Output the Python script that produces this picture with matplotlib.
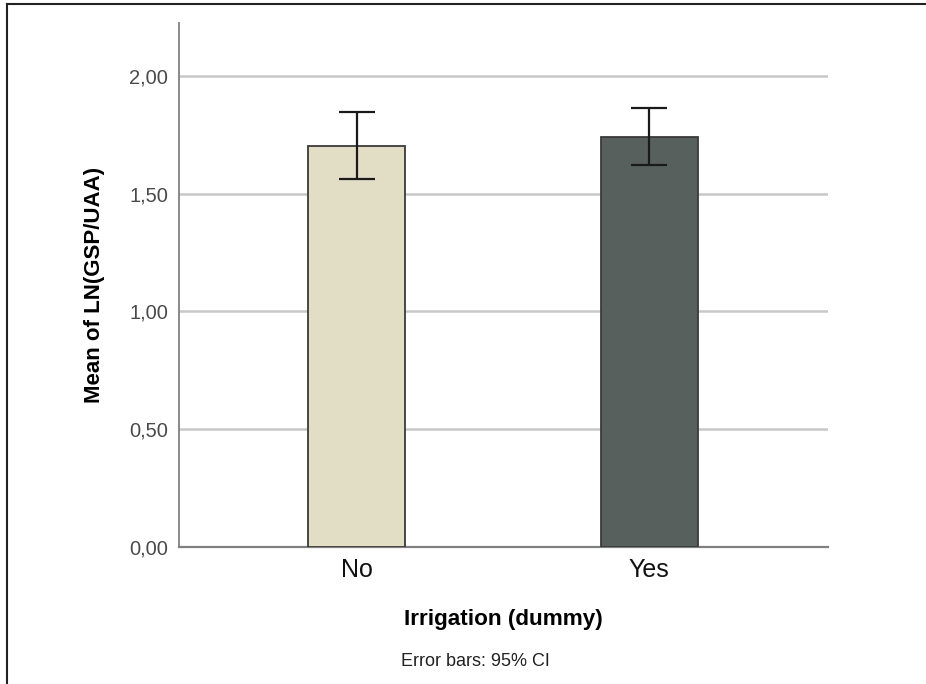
"""Mean of LN(GSP/UAA) by irrigation, with 95% CI error bars."""
import matplotlib
matplotlib.use("Agg")
import matplotlib.pyplot as plt
from matplotlib.lines import Line2D
from matplotlib.ticker import FuncFormatter

categories = ["No", "Yes"]
means = [1.703, 1.741]
ci_low = [1.561, 1.621]
ci_high = [1.845, 1.862]
bar_colours = ["#E2DEC6", "#58605E"]
y_ticks = [0.0, 0.5, 1.0, 1.5, 2.0]

plt.rcParams["font.family"] = ["Liberation Sans", "DejaVu Sans"]

W, H = 926, 684
fig = plt.figure(figsize=(W / 100, H / 100), dpi=100)
# axes box in pixel units: left 179, right 828, top 23, bottom 547
ax = fig.add_axes([179 / W, 1 - 547 / H, (828 - 179) / W, (547 - 23) / H])

x = list(range(len(categories)))
ax.bar(x, means, width=0.332, color=bar_colours, edgecolor="#3a3a3a",
       linewidth=1.3, zorder=3)
yerr = [[m - lo for m, lo in zip(means, ci_low)],
        [hi - m for m, hi in zip(means, ci_high)]]
ax.errorbar(x, means, yerr=yerr, fmt="none", ecolor="#1a1a1a",
            elinewidth=1.6, capsize=13, capthick=1.6, zorder=4)

ax.set_xlim(-0.608, 1.612)
ax.set_ylim(0, 2.224)
ax.set_yticks(y_ticks)
ax.yaxis.set_major_formatter(FuncFormatter(lambda v, _: f"{v:.2f}".replace(".", ",")))
ax.grid(axis="y", color="#c8c8c8", linewidth=1.8, zorder=0)
ax.set_axisbelow(True)

for side in ("top", "right"):
    ax.spines[side].set_visible(False)
ax.spines["left"].set_color("#808080")
ax.spines["left"].set_linewidth(1.3)
ax.spines["bottom"].set_color("#808080")
ax.spines["bottom"].set_linewidth(1.6)

ax.set_xticks(x)
ax.set_xticklabels(categories, fontsize=18, color="#111111")
ax.tick_params(axis="x", length=0, pad=8)
ax.tick_params(axis="y", length=0, pad=8, labelsize=14.5, labelcolor="#4a4a4a")

ax.set_ylabel("Mean of LN(GSP/UAA)", fontsize=16, fontweight="bold")
ax.yaxis.set_label_coords((105 - 179) / (828 - 179), 0.5 + (547 - 285 - 262) / 524)
ax.set_xlabel("Irrigation (dummy)", fontsize=16.2, fontweight="bold")
ax.xaxis.set_label_coords((503 - 179) / (828 - 179), -(620 - 547) / (547 - 23))
ax.xaxis.label.set_verticalalignment("center")

fig.text(475 / W, 1 - 661 / H, "Error bars: 95% CI", fontsize=13,
         ha="center", va="center", color="#222222")

# frame lines along top and left edge
fig.add_artist(Line2D([7 / W, 1], [1 - 4 / H, 1 - 4 / H], color="#222222", linewidth=1.5))
fig.add_artist(Line2D([7 / W, 7 / W], [0, 1 - 4 / H], color="#222222", linewidth=1.5))

fig.savefig("out.png", dpi=100)
